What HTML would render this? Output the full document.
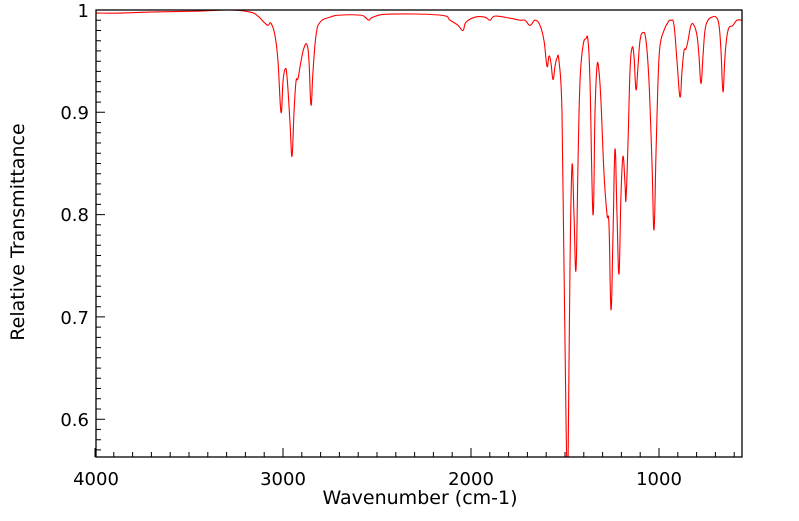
<!DOCTYPE html>
<html><head><meta charset="utf-8"><style>
body{margin:0;background:#fff;}
svg text{font-family:"DejaVu Sans","Liberation Sans",sans-serif;fill:#000;}
</style></head><body>
<svg id="s" width="799" height="516" xmlns="http://www.w3.org/2000/svg">
<defs><clipPath id="c"><rect x="96" y="10" width="646" height="447"/></clipPath></defs>
<g id="ticks" stroke="#000" stroke-width="1"></g>
<path id="sp" clip-path="url(#c)" fill="none" stroke="#ff0000" stroke-width="1.1" stroke-linejoin="round"/>
<rect x="96" y="10" width="646" height="447" fill="none" stroke="#000" stroke-width="1.3"/>
<g font-size="18">
<text x="89" y="17" text-anchor="end">1</text>
<text x="89" y="119" text-anchor="end">0.9</text>
<text x="89" y="221" text-anchor="end">0.8</text>
<text x="89" y="324" text-anchor="end">0.7</text>
<text x="89" y="426" text-anchor="end">0.6</text>
<text x="96" y="485" text-anchor="middle">4000</text>
<text x="283" y="485" text-anchor="middle">3000</text>
<text x="471" y="485" text-anchor="middle">2000</text>
<text x="659" y="485" text-anchor="middle">1000</text>
</g>
<text x="420" y="504" font-size="19" text-anchor="middle">Wavenumber (cm-1)</text>
<text transform="translate(24,232) rotate(-90)" font-size="19" text-anchor="middle">Relative Transmittance</text>
</svg>
<script>
var P=[96,.997,120,.997,150,.998,200,.999,230,1.0,250,.998,258,.994,264,.988,268,.985,271,.987,275,.975,278,.95,281,.90,283,.93,285,.942,287,.935,290,.89,292,.857,294,.9,296,.93,298,.933,301,.95,304,.963,307,.966,309,.95,311,.907,313,.94,316,.975,320,.988,330,.993,340,.995,360,.995,365,.993,369,.99,373,.993,390,.996,440,.995,450,.99,458,.985,463,.98,466,.988,475,.993,485,.993,490,.99,495,.994,510,.992,520,.99,525,.99,530,.985,535,.99,540,.985,544,.97,547,.945,549,.955,551,.948,553,.932,555,.945,557,.953,559,.95,562,.9,564,.75,566,.6,567,.55,568,.55,570,.75,572,.848,574,.8,576,.746,578,.85,580,.93,583,.965,586,.972,588,.97,590,.93,593,.80,595,.9,597,.945,599,.94,601,.91,604,.84,607,.80,609,.79,611,.707,613,.78,615,.864,617,.80,619,.742,621,.82,623,.857,625,.83,626,.815,628,.87,630,.94,632,.963,634,.955,636,.922,638,.945,640,.97,643,.978,646,.97,649,.93,652,.85,654,.785,656,.86,658,.93,660,.965,664,.98,668,.988,671,.99,674,.985,677,.95,680,.915,682,.94,684,.96,686,.962,688,.97,691,.985,694,.985,697,.975,699,.955,701,.928,703,.955,705,.98,708,.99,712,.993,716,.993,719,.985,721,.96,723,.92,725,.955,728,.98,733,.985,737,.99,742,.99];
function Y(v){return 10+(1-v)*1023;}
var pts=[];for(var i=0;i<P.length;i+=2)pts.push([P[i],Y(P[i+1])]);
var d="M"+pts[0][0]+","+pts[0][1].toFixed(1);
for(var i=0;i<pts.length-1;i++){var p0=pts[Math.max(i-1,0)],p1=pts[i],p2=pts[i+1],p3=pts[Math.min(i+2,pts.length-1)];
var t=0.2;
d+="C"+(p1[0]+(p2[0]-p0[0])*t).toFixed(2)+","+(p1[1]+(p2[1]-p0[1])*t).toFixed(2)+" "+(p2[0]-(p3[0]-p1[0])*t).toFixed(2)+","+(p2[1]-(p3[1]-p1[1])*t).toFixed(2)+" "+p2[0]+","+p2[1].toFixed(2);}
document.getElementById("sp").setAttribute("d",d);
var t="";
for(var w=4000;w>=560;w-=100){var x=95+(4000-w)*0.188;var L=(w%1000==0)?9:5;t+="M"+x.toFixed(1)+",457v-"+L;}
for(var k=0;k<=44;k++){var v=1-k*0.01;var y=Y(v);if(y>457)break;var L=(k%10==0)?9:5;t+="M96,"+y.toFixed(1)+"h"+L;}
var p=document.createElementNS("http://www.w3.org/2000/svg","path");p.setAttribute("d",t);
document.getElementById("ticks").appendChild(p);
</script>
</body></html>
